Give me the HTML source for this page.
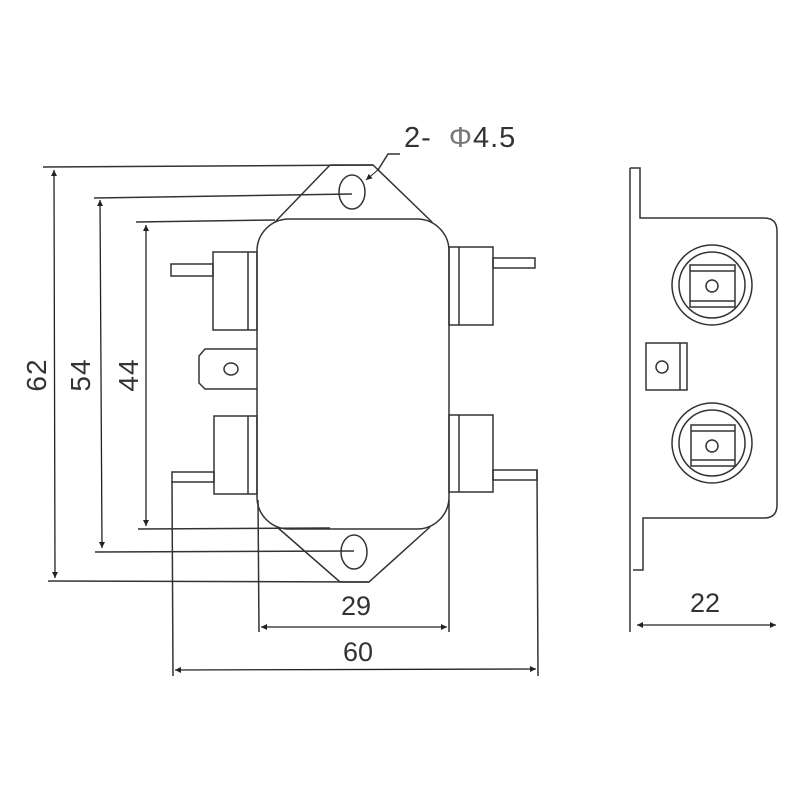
<!DOCTYPE html>
<html><head><style>body{margin:0;background:#fff}svg{display:block}</style></head>
<body>
<svg width="800" height="800" viewBox="0 0 800 800" xmlns="http://www.w3.org/2000/svg" font-family="Liberation Sans, sans-serif">
<defs>
<marker id="a" viewBox="0 0 10 10" refX="10" refY="5" markerWidth="14" markerHeight="6" markerUnits="userSpaceOnUse" orient="auto-start-reverse"><path d="M0,0 L10,5 L0,10 z" fill="#222"/></marker>
</defs>
<g fill="none" stroke="#333" stroke-width="1.5">
<path d="M330,165 L373,165 L432,222 M330,165 L275,222"/>
<path d="M277,527 L340,582 L369,582 L430,527"/>
<rect x="257" y="219" width="192" height="310" rx="32"/>
<ellipse cx="352" cy="192" rx="13" ry="17"/>
<ellipse cx="354" cy="552" rx="13" ry="17"/>
<rect x="213" y="252" width="44" height="78"/><line x1="248" y1="252" x2="248" y2="330"/>
<rect x="171" y="264" width="42" height="12"/>
<path d="M257,349 L205,349 L199,356 L199,383 L205,389 L257,389"/>
<ellipse cx="231" cy="369" rx="7" ry="6"/>
<rect x="214" y="416" width="43" height="78"/><line x1="248" y1="416" x2="248" y2="494"/>
<rect x="172" y="472" width="42" height="10"/>
<rect x="449" y="247" width="44" height="78"/><line x1="459" y1="247" x2="459" y2="325"/>
<rect x="493" y="258" width="42" height="10"/>
<rect x="449" y="415" width="44" height="77"/><line x1="459" y1="415" x2="459" y2="492"/>
<rect x="493" y="470" width="44" height="10"/>
<line x1="43" y1="167" x2="373" y2="165"/>
<line x1="48" y1="581" x2="369" y2="582"/>
<line x1="94" y1="198" x2="352" y2="194"/>
<line x1="95" y1="552" x2="354" y2="551"/>
<line x1="136" y1="222" x2="275" y2="220"/>
<line x1="138" y1="529" x2="330" y2="528"/>
<line x1="172" y1="482" x2="173" y2="676"/>
<line x1="537" y1="470" x2="538" y2="676"/>
<line x1="258" y1="500" x2="259" y2="632"/>
<line x1="449" y1="500" x2="449" y2="632"/>
<path d="M378,170 L388,154 L400,154"/>
</g>
<g stroke="#222" stroke-width="1.3" fill="none">
<line x1="54" y1="170" x2="55" y2="578" marker-start="url(#a)" marker-end="url(#a)"/>
<line x1="100" y1="200" x2="102" y2="548" marker-start="url(#a)" marker-end="url(#a)"/>
<line x1="146" y1="225" x2="146" y2="526" marker-start="url(#a)" marker-end="url(#a)"/>
<line x1="261" y1="627" x2="447" y2="627" marker-start="url(#a)" marker-end="url(#a)"/>
<line x1="175" y1="670" x2="536" y2="669" marker-start="url(#a)" marker-end="url(#a)"/>
<line x1="637" y1="625" x2="776" y2="625" marker-start="url(#a)" marker-end="url(#a)"/>
<line x1="366" y1="180" x2="379" y2="169" stroke-width="1" marker-start="url(#a)"/>
</g>
<g fill="#333" font-size="29">
<text x="404" y="147" letter-spacing="1">2-  <tspan fill="#777" dx="8">Φ</tspan>4.5</text>
<text transform="translate(46,375) rotate(-90)" text-anchor="middle" font-size="28" letter-spacing="1">62</text>
<text transform="translate(90,375) rotate(-90)" text-anchor="middle" font-size="28" letter-spacing="1">54</text>
<text transform="translate(138,375) rotate(-90)" text-anchor="middle" font-size="28" letter-spacing="1">44</text>
<text x="356" y="615" text-anchor="middle" font-size="27">29</text>
<text x="358" y="661" text-anchor="middle" font-size="27">60</text>
<text x="705" y="612" text-anchor="middle" font-size="27">22</text>
</g>
<g fill="none" stroke="#333" stroke-width="1.5">
<path d="M630,168 L630,632"/>
<path d="M630,168 L640,168 L640,218 L764,218 Q777,218 777,231 L777,505 Q777,518 764,518 L643,518 L643,570 L633,570"/>
<circle cx="712" cy="285" r="40"/><circle cx="712" cy="285" r="33"/>
<rect x="690" y="265" width="45" height="42"/>
<line x1="690" y1="271" x2="735" y2="271"/><line x1="690" y1="301" x2="735" y2="301"/>
<circle cx="712" cy="286" r="6"/>
<circle cx="712" cy="443" r="40"/><circle cx="712" cy="443" r="33"/>
<rect x="691" y="425" width="44" height="41"/>
<line x1="691" y1="431" x2="735" y2="431"/><line x1="691" y1="460" x2="735" y2="460"/>
<circle cx="712" cy="446" r="6"/>
<rect x="646" y="343" width="41" height="47"/>
<line x1="680" y1="343" x2="680" y2="390"/>
<circle cx="662" cy="367" r="6"/>
</g>
</svg>
</body></html>
